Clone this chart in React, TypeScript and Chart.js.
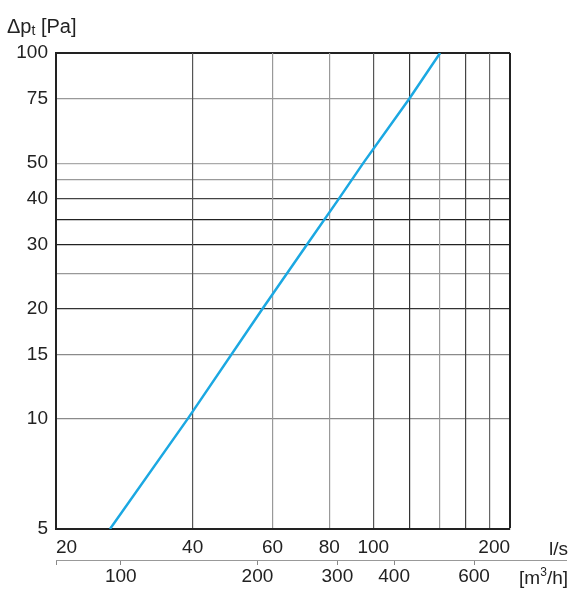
import React, { useEffect, useRef } from 'react';
import { Chart, registerables } from 'chart.js';
Chart.register(...registerables);

// Data
const flowLs = [26.3, 39, 57, 71.5, 84, 95, 120, 140.3];
const pressurePa = [5, 10, 20, 30, 40, 50, 75, 100];

const yGridValues = [5, 10, 15, 20, 25, 30, 35, 40, 45, 50, 75, 100];
const yLabelValues = [5, 10, 15, 20, 30, 40, 50, 75, 100];
const xGridValues = [20, 40, 60, 80, 100, 120, 140, 160, 180, 200];
const xLabelValues = [20, 40, 60, 80, 100, 200];
const m3hTickValues = [72, 100, 200, 300, 400, 600];
const m3hLabelValues = [100, 200, 300, 400, 600];

const FONT = '"Liberation Sans", Arial, sans-serif';
const FS = 19;

const yGridColor: Record<number, string> = {
  5: '#222', 10: '#8a8a8a', 15: '#8a8a8a', 20: '#333', 25: '#999', 30: '#222', 35: '#222',
  40: '#444', 45: '#999', 50: '#aaa', 75: '#999', 100: '#222',
};
const xGridColor: Record<number, string> = {
  20: '#222', 40: '#555', 60: '#999', 80: '#999', 100: '#555', 120: '#333', 140: '#999',
  160: '#444', 180: '#666', 200: '#222',
};

const framePlugin = {
  id: 'framePlugin',
  afterDraw(chart: any) {
    const ctx = chart.ctx;
    const x2 = chart.scales.x2;
    ctx.save();
    ctx.strokeStyle = '#999';
    ctx.lineWidth = 1;
    ctx.beginPath();
    ctx.moveTo(x2.right, x2.top + 0.5);
    ctx.lineTo(567, x2.top + 0.5);
    ctx.stroke();

    ctx.fillStyle = '#222';
    ctx.textBaseline = 'alphabetic';
    ctx.font = `20px ${FONT}`;
    ctx.textAlign = 'left';
    let x = 7;
    const base = 33;
    ctx.fillText('Δp', x, base);
    x += ctx.measureText('Δp').width;
    ctx.font = `14px ${FONT}`;
    ctx.fillText('t', x, base + 2);
    x += ctx.measureText('t').width;
    ctx.font = `20px ${FONT}`;
    ctx.fillText(' [Pa]', x, base);

    ctx.font = `${FS}px ${FONT}`;
    ctx.textAlign = 'right';
    ctx.fillText('l/s', 568, 555);
    const unitBase = 584;
    ctx.fillText(']', 568, unitBase);
    const wB = ctx.measureText(']').width;
    ctx.fillText('/h', 568 - wB, unitBase);
    const wH = ctx.measureText('/h').width;
    ctx.font = `12px ${FONT}`;
    ctx.fillText('3', 568 - wB - wH, unitBase - 8);
    const w3 = ctx.measureText('3').width;
    ctx.font = `${FS}px ${FONT}`;
    ctx.fillText('[m', 568 - wB - wH - w3, unitBase);
    ctx.restore();
  },
};

export default function App() {
  const ref = useRef<HTMLCanvasElement | null>(null);
  useEffect(() => {
    if (!ref.current) return;
    const chart = new Chart(ref.current, {
      type: 'line',
      data: {
        datasets: [
          {
            data: flowLs.map((v, i) => ({ x: v, y: pressurePa[i] })),
            borderColor: '#1ba8e2',
            borderWidth: 2.5,
            pointRadius: 0,
            fill: false,
            tension: 0,
            xAxisID: 'x',
            yAxisID: 'y',
          },
        ],
      },
      plugins: [framePlugin],
      options: {
        animation: false,
        responsive: false,
        events: [],
        layout: { padding: { top: 53, right: 74, bottom: 0, left: 0 } },
        plugins: { legend: { display: false }, tooltip: { enabled: false }, title: { display: false } },
        scales: {
          y: {
            type: 'logarithmic',
            position: 'left',
            min: 5,
            max: 100,
            afterBuildTicks: (s: any) => {
              s.ticks = yGridValues.map((v) => ({ value: v }));
            },
            afterFit: (s: any) => {
              s.width = 56;
            },
            ticks: {
              autoSkip: false,
              padding: 8,
              color: '#222',
              font: { family: FONT, size: FS },
              callback: (v: any) => (yLabelValues.includes(Number(v)) ? String(v) : ''),
            },
            grid: {
              drawTicks: false,
              color: (c: any) => yGridColor[c.tick?.value] ?? '#999',
              lineWidth: (c: any) => (c.tick?.value === 100 ? 2 : 1.2),
            },
            border: { display: true, color: '#222', width: 2 },
          },
          x: {
            type: 'logarithmic',
            position: 'bottom',
            weight: 0,
            min: 20,
            max: 200,
            afterBuildTicks: (s: any) => {
              s.ticks = xGridValues.map((v) => ({ value: v }));
            },
            afterFit: (s: any) => {
              s.height = 31;
            },
            ticks: {
              autoSkip: false,
              maxRotation: 0,
              minRotation: 0,
              padding: 7,
              color: '#222',
              font: { family: FONT, size: FS },
              callback: (v: any) => {
                const n = Number(v);
                if (!xLabelValues.includes(n)) return '';
                if (n === 20) return '    20';
                if (n === 200) return '200      ';
                return String(n);
              },
            },
            grid: {
              drawTicks: false,
              color: (c: any) => xGridColor[c.tick?.value] ?? '#999',
              lineWidth: (c: any) => (c.tick?.value === 200 ? 2 : 1.2),
            },
            border: { display: true, color: '#222', width: 2 },
          },
          x2: {
            type: 'logarithmic',
            position: 'bottom',
            weight: 1,
            min: 72,
            max: 720,
            afterBuildTicks: (s: any) => {
              s.ticks = m3hTickValues.map((v) => ({ value: v }));
            },
            afterFit: (s: any) => {
              s.height = 40;
            },
            ticks: {
              autoSkip: false,
              maxRotation: 0,
              minRotation: 0,
              padding: 0,
              color: '#222',
              font: { family: FONT, size: FS },
              callback: (v: any) => (m3hLabelValues.includes(Number(v)) ? String(v) : ''),
            },
            grid: {
              drawOnChartArea: false,
              drawTicks: true,
              tickLength: 5,
              color: '#888',
              lineWidth: 1,
            },
            border: { display: true, color: '#999', width: 1 },
          },
        },
      } as any,
    });
    return () => chart.destroy();
  }, []);
  return (
    <div style={{ position: 'absolute', left: 0, top: 0, width: 584, height: 600, background: '#fff' }}>
      <canvas ref={ref} width={584} height={600} style={{ width: 584, height: 600, display: 'block' }} />
    </div>
  );
}
